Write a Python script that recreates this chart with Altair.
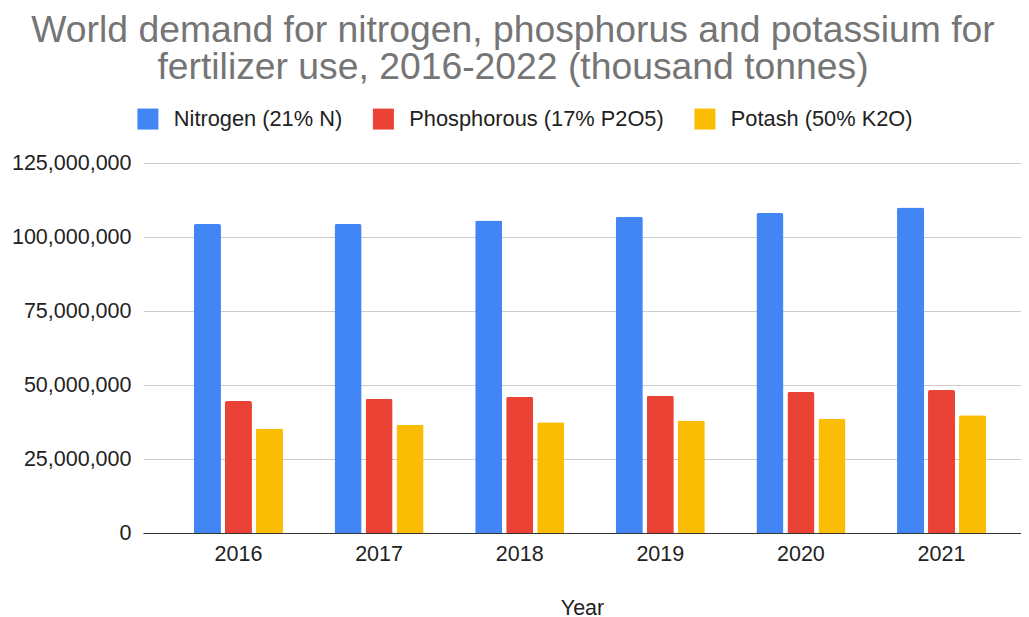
import altair as alt
import pandas as pd

years = ["2016", "2017", "2018", "2019", "2020", "2021"]
series = ["Nitrogen (21% N)", "Phosphorous (17% P2O5)", "Potash (50% K2O)"]
nitrogen = [104400000, 104400000, 105600000, 106800000, 108100000, 110000000]
phosphorous = [44600000, 45300000, 46000000, 46400000, 47600000, 48300000]
potash = [35300000, 36600000, 37400000, 38000000, 38600000, 39800000]
colors = ["#4285F4", "#EA4335", "#FBBC04"]
y_ticks = [0, 25000000, 50000000, 75000000, 100000000, 125000000]

rows = []
for s, vals in zip(series, [nitrogen, phosphorous, potash]):
    for y, v in zip(years, vals):
        rows.append({"Year": y, "Series": s, "Value": v})
df = pd.DataFrame(rows)

FONT = "Liberation Sans"

chart = alt.Chart(df).mark_bar(
    cornerRadiusTopLeft=2, cornerRadiusTopRight=2
).encode(
    x=alt.X("Year:N", sort=years,
            scale=alt.Scale(paddingInner=0.367, paddingOuter=0.3055, align=0.593),
            axis=alt.Axis(title="Year", labelAngle=0, ticks=False,
                          domainColor="#333333", domainWidth=1,
                          labelFontSize=21.5, labelColor="#222222", labelFont=FONT,
                          labelPadding=10, titleFontSize=21.5, titleFont=FONT,
                          titleFontWeight="normal", titleColor="#222222",
                          titlePadding=33)),
    xOffset=alt.XOffset("Series:N", sort=series,
                        scale=alt.Scale(paddingInner=0.129, paddingOuter=0)),
    y=alt.Y("Value:Q", scale=alt.Scale(domain=[0, 125000000], nice=False),
            axis=alt.Axis(title=None, values=y_ticks, format=",d", domain=False,
                          ticks=False, gridColor="#cccccc", gridWidth=1,
                          labelFontSize=21.5, labelColor="#222222", labelFont=FONT,
                          labelPadding=12)),
    color=alt.Color("Series:N", sort=series,
                    scale=alt.Scale(domain=series, range=colors),
                    legend=alt.Legend(title=None, orient="none", direction="horizontal",
                                      legendX=-6, legendY=-55, symbolType="square",
                                      symbolSize=441, symbolStrokeWidth=0,
                                      symbolOpacity=1,
                                      labelFontSize=21.8, labelFont=FONT,
                                      labelColor="#222222", labelOffset=15,
                                      columnPadding=29.5, labelLimit=400, padding=0)),
).properties(
    width=878,
    height=370,
    padding={"left": 135, "top": 155, "right": 0, "bottom": 84},
    autosize=alt.AutoSizeParams(type="none"),
    title=alt.TitleParams(
        text=["World demand for nitrogen, phosphorus and potassium for",
              "fertilizer use, 2016-2022 (thousand tonnes)"],
        fontSize=37.3, font=FONT, fontWeight="normal", color="#757575",
        anchor="middle", frame="group", dx=-69, lineHeight=37, offset=21),
).configure_view(stroke=None)

chart.save("out.html", embed_options={"renderer": "svg", "actions": False})
